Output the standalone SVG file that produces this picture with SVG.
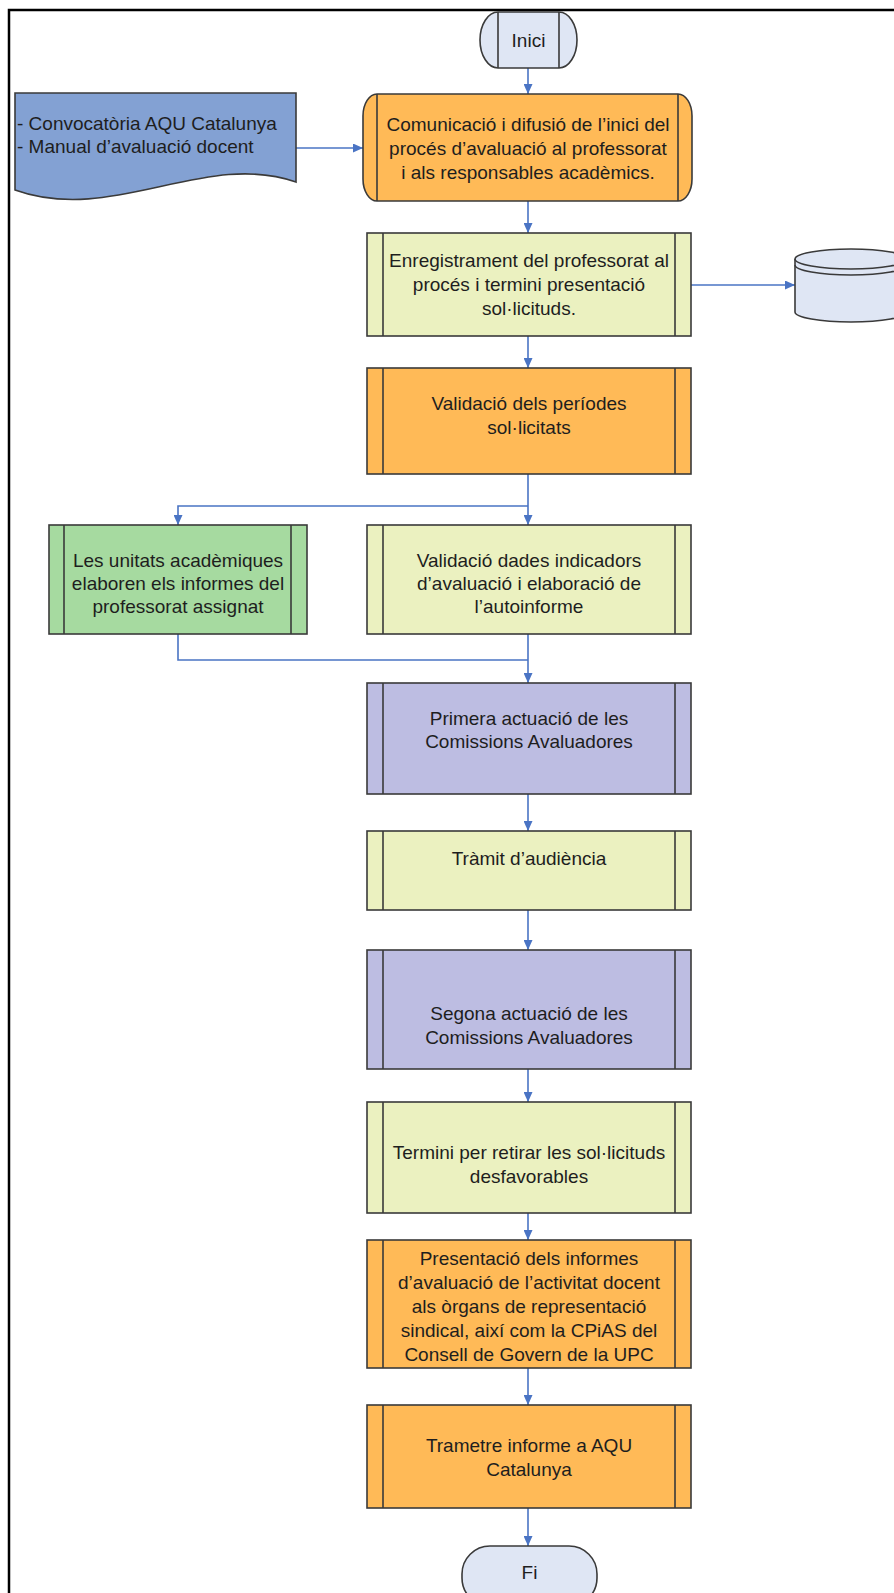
<svg xmlns="http://www.w3.org/2000/svg" width="894" height="1593" viewBox="0 0 894 1593">
<style>
.t{font-family:"Liberation Sans",Arial,sans-serif;font-size:19px;fill:#1e1e1e;text-anchor:middle}
.tl{font-family:"Liberation Sans",Arial,sans-serif;font-size:19px;fill:#1e1e1e}
.sh{stroke:#3a3a3a;stroke-width:1.6}
.orange{fill:#FFBA57}
.yellow{fill:#EBF1C0}
.green{fill:#A6DAA0}
.purple{fill:#BDBDE2}
.light{fill:#DFE6F4}
.blue{fill:#83A1D3}
.ln{stroke:#3a3a3a;stroke-width:1.6;fill:none}
.c{stroke:#4A74C4;stroke-width:1.6;fill:none}
.ca{stroke:#4A74C4;stroke-width:1.6;fill:none;marker-end:url(#ah)}
</style>
<defs>
<marker id="ah" markerUnits="userSpaceOnUse" markerWidth="10" markerHeight="9" refX="10" refY="4.5" orient="auto">
<path d="M0,0 L10,4.5 L0,9 Z" fill="#4A74C4"/>
</marker>
</defs>
<rect x="0" y="0" width="894" height="1593" fill="#ffffff"/>
<rect x="9" y="10" width="910" height="1620" fill="none" stroke="#000" stroke-width="2.5"/>

<g id="connectors">
<path class="ca" d="M528,68 V94"/>
<path class="ca" d="M296,148 H363"/>
<path class="ca" d="M528,201 V233"/>
<path class="ca" d="M691,285 H795"/>
<path class="ca" d="M528,336 V368"/>
<path class="ca" d="M528,474 V525"/>
<path class="ca" d="M528,506 H178 V525"/>
<path class="ca" d="M528,634 V683"/>
<path class="c" d="M178,634 V660 H528"/>
<path class="ca" d="M528,794 V831"/>
<path class="ca" d="M528,910 V950"/>
<path class="ca" d="M528,1069 V1102"/>
<path class="ca" d="M528,1213 V1240"/>
<path class="ca" d="M528,1368 V1405"/>
<path class="ca" d="M528,1508 V1546"/>
</g>

<g id="inici">
<path class="light sh" d="M498,12 H559 A18,28 0 0 1 559,68 H498 A18,28 0 0 1 498,12 Z"/>
<path class="ln" d="M498,12 V68 M559,12 V68"/>
<text class="t" x="528.5" y="47">Inici</text>
</g>

<g id="doc">
<path class="blue sh" d="M15,93 H296 V182 C205,150 112,225 15,190 Z"/>
<text class="tl" x="17" y="130">- Convocatòria AQU Catalunya</text>
<text class="tl" x="17" y="153">- Manual d’avaluació docent</text>
</g>

<g id="comunicacio">
<path class="orange sh" d="M377,94 H678 A14,22 0 0 1 692,116 V179 A14,22 0 0 1 678,201 H377 A14,22 0 0 1 363,179 V116 A14,22 0 0 1 377,94 Z"/>
<path class="ln" d="M377,94 V201 M678,94 V201"/>
<text class="t" x="528" y="131">Comunicació i difusió de l’inici del</text>
<text class="t" x="528" y="155">procés d’avaluació al professorat</text>
<text class="t" x="528" y="179">i als responsables acadèmics.</text>
</g>

<g id="enregistrament">
<rect class="yellow sh" x="367" y="233" width="324" height="103"/>
<path class="ln" d="M383,233 V336 M675,233 V336"/>
<text class="t" x="529" y="267">Enregistrament del professorat al</text>
<text class="t" x="529" y="291">procés i termini presentació</text>
<text class="t" x="529" y="315">sol·licituds.</text>
</g>

<g id="database">
<path class="light sh" d="M795,259 A56,10 0 0 1 907,259 V312 A56,10 0 0 1 795,312 Z"/>
<path class="ln" d="M795,259 A56,10 0 0 0 907,259 M795,265 A56,10 0 0 0 907,265"/>
</g>

<g id="validacio-periodes">
<rect class="orange sh" x="367" y="368" width="324" height="106"/>
<path class="ln" d="M383,368 V474 M675,368 V474"/>
<text class="t" x="529" y="410">Validació dels períodes</text>
<text class="t" x="529" y="434">sol·licitats</text>
</g>

<g id="unitats">
<rect class="green sh" x="49" y="525" width="258" height="109"/>
<path class="ln" d="M64,525 V634 M291,525 V634"/>
<text class="t" x="178" y="567">Les unitats acadèmiques</text>
<text class="t" x="178" y="590">elaboren els informes del</text>
<text class="t" x="178" y="613">professorat assignat</text>
</g>

<g id="validacio-dades">
<rect class="yellow sh" x="367" y="525" width="324" height="109"/>
<path class="ln" d="M383,525 V634 M675,525 V634"/>
<text class="t" x="529" y="567">Validació dades indicadors</text>
<text class="t" x="529" y="590">d’avaluació i elaboració de</text>
<text class="t" x="529" y="613">l’autoinforme</text>
</g>

<g id="primera">
<rect class="purple sh" x="367" y="683" width="324" height="111"/>
<path class="ln" d="M383,683 V794 M675,683 V794"/>
<text class="t" x="529" y="725">Primera actuació de les</text>
<text class="t" x="529" y="748">Comissions Avaluadores</text>
</g>

<g id="tramit">
<rect class="yellow sh" x="367" y="831" width="324" height="79"/>
<path class="ln" d="M383,831 V910 M675,831 V910"/>
<text class="t" x="529" y="865">Tràmit d’audiència</text>
</g>

<g id="segona">
<rect class="purple sh" x="367" y="950" width="324" height="119"/>
<path class="ln" d="M383,950 V1069 M675,950 V1069"/>
<text class="t" x="529" y="1020">Segona actuació de les</text>
<text class="t" x="529" y="1044">Comissions Avaluadores</text>
</g>

<g id="termini">
<rect class="yellow sh" x="367" y="1102" width="324" height="111"/>
<path class="ln" d="M383,1102 V1213 M675,1102 V1213"/>
<text class="t" x="529" y="1159">Termini per retirar les sol·licituds</text>
<text class="t" x="529" y="1183">desfavorables</text>
</g>

<g id="presentacio">
<rect class="orange sh" x="367" y="1240" width="324" height="128"/>
<path class="ln" d="M383,1240 V1368 M675,1240 V1368"/>
<text class="t" x="529" y="1265">Presentació dels informes</text>
<text class="t" x="529" y="1289">d’avaluació de l’activitat docent</text>
<text class="t" x="529" y="1313">als òrgans de representació</text>
<text class="t" x="529" y="1337">sindical, així com la CPiAS del</text>
<text class="t" x="529" y="1361">Consell de Govern de la UPC</text>
</g>

<g id="trametre">
<rect class="orange sh" x="367" y="1405" width="324" height="103"/>
<path class="ln" d="M383,1405 V1508 M675,1405 V1508"/>
<text class="t" x="529" y="1452">Trametre informe a AQU</text>
<text class="t" x="529" y="1476">Catalunya</text>
</g>

<g id="fi">
<rect class="light sh" x="462" y="1546" width="135" height="60" rx="28" ry="28"/>
<text class="t" x="529.5" y="1579">Fi</text>
</g>
</svg>
